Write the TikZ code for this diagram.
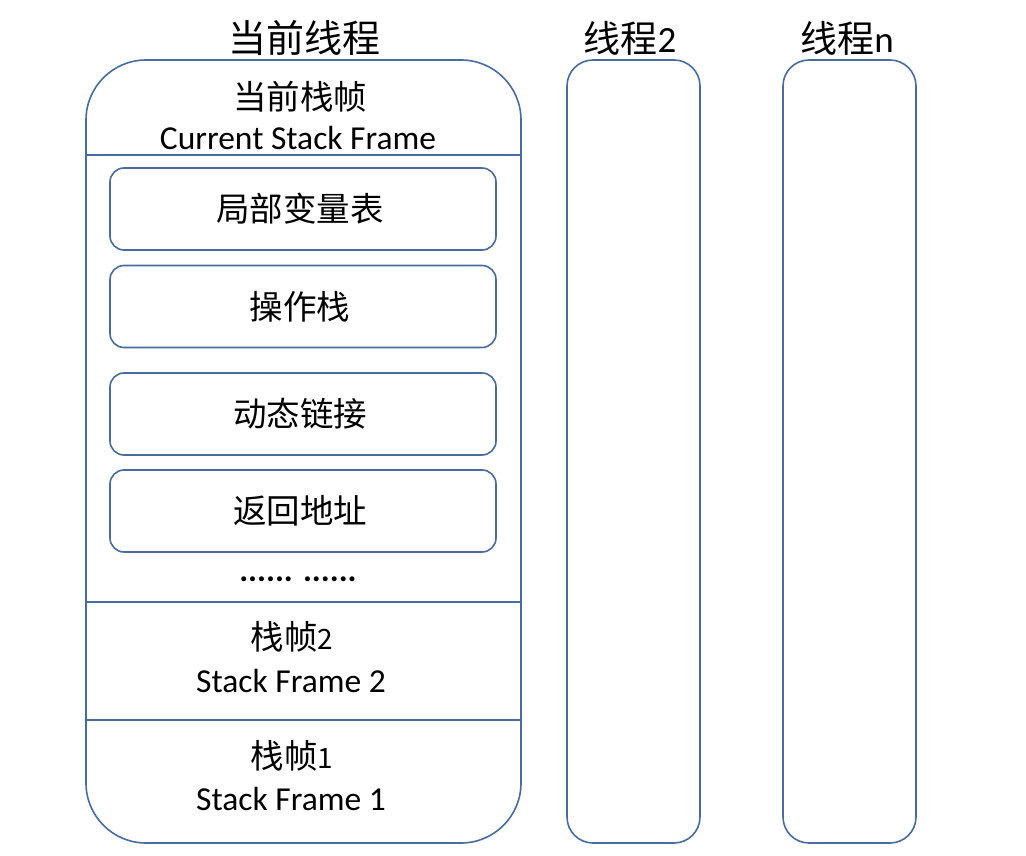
\documentclass[tikz,border=0pt]{standalone}
\usepackage{fontspec}
\setmainfont{Carlito}
\newfontfamily\cjk{Noto Sans CJK SC}
\definecolor{edge}{RGB}{72,108,160}
\begin{document}
\begin{tikzpicture}[x=1pt,y=-1pt,
  box/.style={draw=edge,line width=1.6pt,inner sep=0pt},
  thread/.style={box,minimum width=133pt,minimum height=783pt,rounded corners=26pt},
  inner/.style={box,minimum width=386pt,minimum height=82pt,rounded corners=14pt},
  zh/.style={font=\cjk\fontsize{33.5}{36}\selectfont,inner sep=0pt},
  title/.style={font=\cjk\fontsize{38}{40}\selectfont,inner sep=0pt},
  en/.style={font=\fontsize{33.5}{36}\selectfont,inner sep=0pt},
  divider/.style={draw=edge,line width=1.6pt}]
\useasboundingbox (0,0) rectangle (1026,856);
\fill[white] (0,0) rectangle (1026,856);
% main thread
\node[box,minimum width=435pt,minimum height=783pt,rounded corners=60pt] (main) at (303.5,451.5) {};
\node[title] (t1) at (304,38) {当前线程};
\node[zh] (cur) at (300,97) {当前栈帧};
\node[en] (curen) at (298,138) {Current Stack Frame};
\coordinate (d1) at (303,155);
\coordinate (d2) at (303,602);
\coordinate (d3) at (303,720);
\draw[divider] (main.west |- d1) -- (main.east |- d1);
\draw[divider] (main.west |- d2) -- (main.east |- d2);
\draw[divider] (main.west |- d3) -- (main.east |- d3);
\node[inner] (b1) at (303,209) {};
\node[zh] at ([xshift=-3pt]b1.center) {局部变量表};
\node[inner] (b2) at (303,306.5) {};
\node[zh] at ([xshift=-3pt]b2.center) {操作栈};
\node[inner] (b3) at (303,414) {};
\node[zh] at ([xshift=-3pt]b3.center) {动态链接};
\node[inner] (b4) at (303,511) {};
\node[zh] at ([xshift=-3pt]b4.center) {返回地址};
\node[en,font=\bfseries\fontsize{33.5}{36}\selectfont] (dots) at (298,579) {...... ......};
\node[inner sep=0pt] (f2) at (292,637) {\cjk\fontsize{33.5}{36}\selectfont 栈帧\fontsize{28}{30}\selectfont 2};
\node[en] (f2en) at (291,681) {Stack Frame 2};
\node[inner sep=0pt] (f1) at (292,756) {\cjk\fontsize{33.5}{36}\selectfont 栈帧\fontsize{28}{30}\selectfont 1};
\node[en] (f1en) at (291,799) {Stack Frame 1};
% thread 2
\node[thread] (th2) at (633.5,451.5) {};
\node[inner sep=0pt] (t2) at (630,38) {\cjk\fontsize{37}{40}\selectfont 线程\rmfamily\fontsize{37}{40}\selectfont 2};
% thread n
\node[thread] (thn) at (849.5,451.5) {};
\node[inner sep=0pt] (tn) at (847,38) {\cjk\fontsize{37}{40}\selectfont 线程\rmfamily\fontsize{37}{40}\selectfont n};
\end{tikzpicture}
\end{document}
